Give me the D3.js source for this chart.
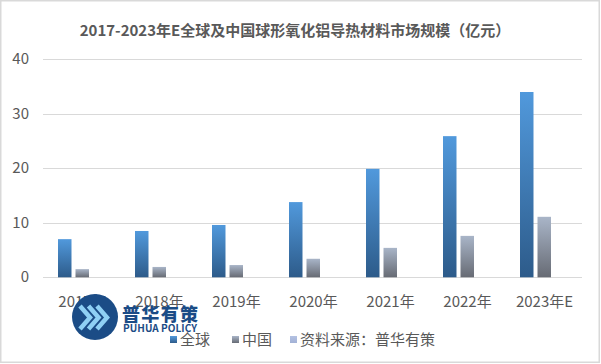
<!DOCTYPE html>
<html>
<head>
<meta charset="utf-8">
<script src="https://cdn.jsdelivr.net/npm/d3@7"></script>
<style>
  html, body { margin: 0; padding: 0; background: #fff; }
  svg { display: block; }
  text { font-family: "Noto Sans CJK SC", "Microsoft YaHei", sans-serif; }
</style>
</head>
<body>
<svg id="chart" width="601" height="364"></svg>
<script>
const title = "2017-2023年E全球及中国球形氧化铝导热材料市场规模（亿元）";
const categories = ["2017年", "2018年", "2019年", "2020年", "2021年", "2022年", "2023年E"];
const seriesNames = ["全球", "中国", "资料来源：普华有策"];
const globalValues = [7.0, 8.5, 9.6, 13.8, 19.9, 25.9, 34.0];
const chinaValues = [1.5, 1.9, 2.25, 3.4, 5.4, 7.6, 11.1];
const sourceValues = [0, 0, 0, 0, 0, 0, 0];
const yTicks = [0, 10, 20, 30, 40];

const seriesValues = [globalValues, chinaValues, sourceValues];

const svg = d3.select("#chart");
const W = 601, H = 364;

// defs: gradients
const defs = svg.append("defs");
function grad(id, top, bottom) {
  const g = defs.append("linearGradient").attr("id", id)
    .attr("x1", 0).attr("y1", 0).attr("x2", 0).attr("y2", 1);
  g.append("stop").attr("offset", "0%").attr("stop-color", top);
  g.append("stop").attr("offset", "100%").attr("stop-color", bottom);
}
grad("gBlue", "#5199dc", "#2d5b8a");
grad("gGray", "#a9b5c8", "#676b74");
grad("gLight", "#b4c2e2", "#a2b1d6");
const fills = ["url(#gBlue)", "url(#gGray)", "url(#gLight)"];

// frame
svg.append("rect").attr("x", 0.75).attr("y", 0.75).attr("width", W - 2.5).attr("height", H - 2.5)
  .attr("fill", "#fff").attr("stroke", "#d9d9d9").attr("stroke-width", 1.5);

// title
svg.append("text").attr("x", 295).attr("y", 36).attr("text-anchor", "middle")
  .attr("font-size", 15).attr("font-weight", "bold").attr("fill", "#595959").text(title);

// scales
const x = d3.scaleBand().domain(categories).range([43, 582]).padding(0);
const xs = d3.scaleBand().domain(seriesNames).range([15, 63.5]).paddingInner(0.229).paddingOuter(0);
const y = d3.scaleLinear().domain([0, 40]).range([277.3, 59.3]);

// gridlines
svg.append("g").selectAll("line").data(yTicks).join("line")
  .attr("x1", 43).attr("x2", 582)
  .attr("y1", d => Math.round(y(d)) + 0.5).attr("y2", d => Math.round(y(d)) + 0.5)
  .attr("stroke", "#d9d9d9").attr("stroke-width", 1);

// y labels
svg.append("g").selectAll("text").data(yTicks).join("text")
  .attr("x", 29).attr("y", d => y(d) + 5).attr("text-anchor", "end")
  .attr("font-size", 15).attr("fill", "#595959").text(d => d);

// bars
seriesNames.forEach((s, si) => {
  svg.append("g").selectAll("rect").data(categories).join("rect")
    .attr("x", c => x(c) + xs(s))
    .attr("width", xs.bandwidth())
    .attr("y", (c, i) => y(seriesValues[si][i]))
    .attr("height", (c, i) => y(0) - y(seriesValues[si][i]))
    .attr("fill", fills[si]);
});

// x labels
svg.append("g").selectAll("text").data(categories).join("text")
  .attr("x", c => x(c) + x.bandwidth() / 2 + 1).attr("y", 306.5)
  .attr("text-anchor", "middle").attr("font-size", 15).attr("fill", "#595959").text(c => c);

// logo watermark
const logo = svg.append("g");
logo.append("circle").attr("cx", 95).attr("cy", 317).attr("r", 23).attr("fill", "#1b4c86");
[0, 8.5, 17].forEach(dx => {
  logo.append("polyline")
    .attr("points", `${80 + dx},306 ${90 + dx},317.5 ${80 + dx},329`)
    .attr("fill", "none").attr("stroke", "#8fd0f4").attr("stroke-width", 4.5)
    .attr("stroke-linejoin", "miter");
});
logo.append("text").attr("x", 122).attr("y", 321).attr("font-size", 18).attr("font-weight", "900")
  .attr("fill", "#1b4c86").attr("textLength", 76).text("普华有策");
logo.append("text").attr("x", 123).attr("y", 332).attr("font-size", 10).attr("font-weight", "bold")
  .attr("fill", "#1b4c86").attr("font-family", "Liberation Sans, Arial, sans-serif").attr("textLength", 74).text("PUHUA POLICY");

// legend
const legendX = [170, 232, 290];
const lg = svg.append("g");
seriesNames.forEach((s, i) => {
  lg.append("rect").attr("x", legendX[i]).attr("y", 336).attr("width", 7).attr("height", 7).attr("fill", fills[i]);
  lg.append("text").attr("x", legendX[i] + 10).attr("y", 344.5).attr("font-size", 15)
    .attr("fill", "#595959").text(s);
});
</script>
</body>
</html>
